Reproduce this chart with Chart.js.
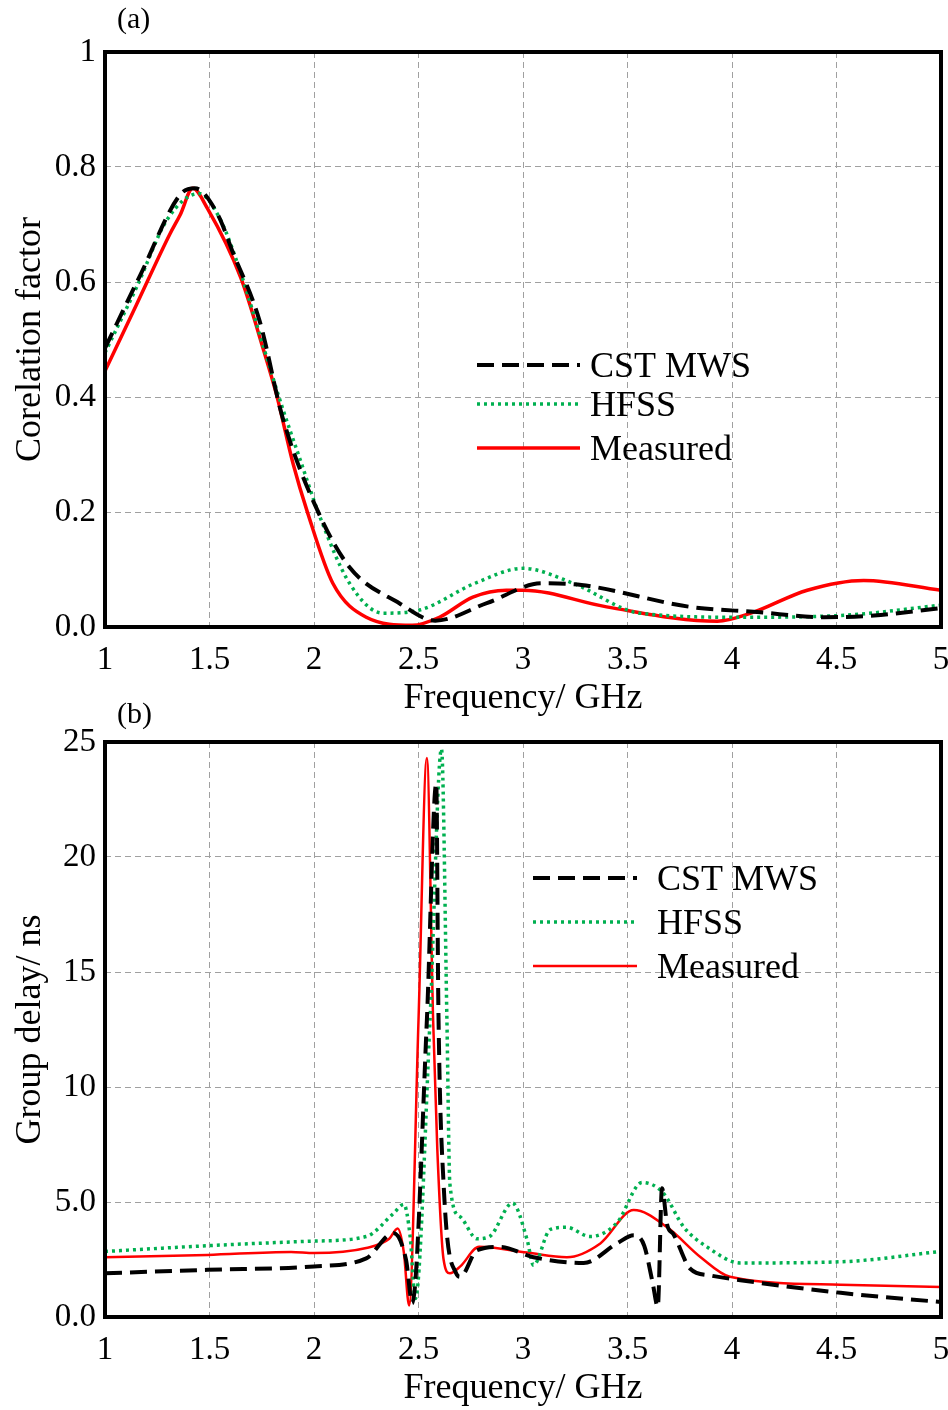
<!DOCTYPE html>
<html>
<head>
<meta charset="utf-8">
<script src="https://cdn.jsdelivr.net/npm/chart.js"></script>
<style>
  body { margin: 0; background: #fff; }
  .wrap { position: absolute; left: 0; width: 948px; height: 720px; }
</style>
</head>
<body>
<div class="wrap" style="top:0"><canvas id="corrChart"></canvas></div>
<div class="wrap" style="top:690px"><canvas id="delayChart"></canvas></div>
<script>
// (a) correlation factor
const corrCstF = [1.0, 1.17, 1.36, 1.43, 1.54, 1.61, 1.74, 1.85, 2.01, 2.17, 2.41, 2.58, 2.83, 3.09, 3.28, 3.80, 4.12, 4.44, 4.68, 5.0];
const corrCst  = [0.485, 0.613, 0.752, 0.763, 0.717, 0.653, 0.532, 0.364, 0.208, 0.104, 0.041, 0.011, 0.042, 0.076, 0.073, 0.035, 0.026, 0.017, 0.02, 0.033];
const corrHfssF = [1.0, 1.15, 1.30, 1.45, 1.55, 1.65, 1.76, 1.85, 1.93, 2.03, 2.17, 2.33, 2.51, 2.77, 3.0, 3.24, 3.56, 4.04, 4.52, 5.0];
const corrHfss  = [0.477, 0.59, 0.71, 0.754, 0.71, 0.615, 0.485, 0.38, 0.295, 0.19, 0.076, 0.024, 0.03, 0.076, 0.102, 0.076, 0.024, 0.017, 0.02, 0.038];
const corrMeasF = [1.0, 1.15, 1.31, 1.36, 1.42, 1.49, 1.65, 1.76, 1.82, 1.90, 1.97, 2.09, 2.25, 2.47, 2.60, 2.76, 2.92, 3.0, 3.40, 3.93, 4.09, 4.36, 4.63, 5.0];
const corrMeas  = [0.445, 0.56, 0.683, 0.717, 0.763, 0.728, 0.607, 0.48, 0.405, 0.284, 0.198, 0.076, 0.017, 0.003, 0.017, 0.052, 0.064, 0.064, 0.035, 0.01, 0.024, 0.064, 0.081, 0.064];
const corrTicks = ['0.0', '0.2', '0.4', '0.6', '0.8', '1'];

// (b) group delay
const delayCstF = [1.0, 1.49, 2.0, 2.25, 2.38, 2.44, 2.47, 2.54, 2.585, 2.595, 2.62, 2.68, 2.70, 2.78, 2.89, 3.05, 3.29, 3.45, 3.53, 3.58, 3.62, 3.645, 3.665, 3.69, 3.72, 3.80, 3.90, 4.04, 4.52, 5.0];
const delayCst  = [1.9, 2.05, 2.2, 2.55, 3.65, 2.5, 0.6, 12.9, 23.2, 13.5, 5.8, 1.9, 1.75, 2.9, 3.05, 2.6, 2.35, 3.2, 3.55, 3.1, 1.5, 0.45, 5.6, 4.0, 3.6, 2.1, 1.8, 1.6, 1.05, 0.65];
const delayHfssF = [1.0, 1.49, 2.0, 2.25, 2.38, 2.43, 2.46, 2.485, 2.555, 2.61, 2.636, 2.65, 2.70, 2.78, 2.84, 2.95, 3.02, 3.05, 3.13, 3.21, 3.32, 3.45, 3.57, 3.67, 3.77, 3.88, 4.04, 4.52, 5.0];
const delayHfss  = [2.85, 3.1, 3.3, 3.5, 4.5, 4.9, 3.5, 0.8, 12.9, 24.7, 12.9, 5.8, 4.35, 3.4, 3.5, 4.95, 3.35, 2.25, 3.8, 3.9, 3.5, 4.1, 5.85, 5.4, 3.9, 3.05, 2.35, 2.4, 2.85];
const delayMeasF = [1.0, 1.49, 1.89, 2.0, 2.25, 2.36, 2.40, 2.43, 2.455, 2.50, 2.54, 2.57, 2.59, 2.62, 2.65, 2.70, 2.79, 3.02, 3.21, 3.37, 3.53, 3.69, 3.85, 3.99, 4.52, 5.0];
const delayMeas  = [2.6, 2.7, 2.83, 2.78, 3.0, 3.4, 3.85, 2.8, 0.5, 12.9, 24.3, 12.9, 7.3, 2.5, 1.9, 2.2, 3.05, 2.8, 2.6, 3.2, 4.65, 3.9, 2.6, 1.75, 1.4, 1.3];
const delayTicks = ['0.0', '5.0', '10', '15', '20', '25'];

const freqTicks = ['1', '1.5', '2', '2.5', '3', '3.5', '4', '4.5', '5'];
const seriesNames = ['CST MWS', 'HFSS', 'Measured'];

const serif = '"Liberation Serif", "Times New Roman", serif';

function pts(xs, ys) {
  return xs.map((x, i) => ({ x: x, y: ys[i] }));
}

// frame, panel tag and the legend inside the plot
const panelDecor = {
  id: 'panelDecor',
  afterDraw(chart, args, opts) {
    const ctx = chart.ctx;
    const a = chart.chartArea;
    ctx.save();
    ctx.strokeStyle = '#000';
    ctx.lineWidth = 4;
    ctx.strokeRect(a.left, a.top, a.right - a.left, a.bottom - a.top);

    ctx.fillStyle = '#000';
    ctx.textBaseline = 'middle';
    ctx.font = '30px ' + serif;
    ctx.fillText(opts.tag, opts.tagX, opts.tagY);

    ctx.font = '36px ' + serif;
    ctx.textBaseline = 'alphabetic';
    chart.data.datasets.forEach((ds, i) => {
      const y = opts.legendY[i];
      ctx.beginPath();
      ctx.setLineDash(ds.borderDash || []);
      ctx.lineWidth = ds.borderWidth;
      ctx.strokeStyle = ds.borderColor;
      ctx.moveTo(opts.lineX0, y);
      ctx.lineTo(opts.lineX1, y);
      ctx.stroke();
      ctx.setLineDash([]);
      ctx.fillText(ds.label, opts.textX, y + 12);
    });
    ctx.restore();
  }
};

function makeChart(id, sets, yMax, yStep, yTicks, yTitle, decor, redWidth) {
  return new Chart(document.getElementById(id), {
    type: 'line',
    data: {
      datasets: [
        { label: seriesNames[0], data: sets[0], borderColor: '#000', borderWidth: 4, borderDash: [17, 8] },
        { label: seriesNames[1], data: sets[1], borderColor: '#00b050', borderWidth: 3.5, borderDash: [3, 4] },
        { label: seriesNames[2], data: sets[2], borderColor: '#ff0000', borderWidth: redWidth }
      ]
    },
    options: {
      responsive: true,
      maintainAspectRatio: false,
      animation: false,
      elements: {
        point: { radius: 0 },
        line: { cubicInterpolationMode: 'monotone' }
      },
      layout: { padding: { top: 52, right: 7, left: 0, bottom: 0 } },
      plugins: {
        legend: { display: false },
        tooltip: { enabled: false },
        panelDecor: decor
      },
      scales: {
        x: {
          type: 'linear',
          min: 1,
          max: 5,
          afterFit: s => { s.height = 93; s.paddingLeft = 0; s.paddingRight = 0; },
          afterBuildTicks: s => { s.ticks = freqTicks.map(t => ({ value: parseFloat(t) })); },
          ticks: {
            padding: 14,
            color: '#000',
            font: { family: serif, size: 33 },
            maxRotation: 0,
            callback: (v, i) => freqTicks[i]
          },
          grid: { color: '#a0a0a0', lineWidth: 1, drawTicks: false },
          border: { display: false, dash: [6, 4] },
          title: {
            display: true,
            text: 'Frequency/ GHz',
            color: '#000',
            font: { family: serif, size: 36 },
            padding: { top: 0, bottom: 0 }
          }
        },
        y: {
          min: 0,
          max: yMax,
          afterFit: s => { s.width = 105; },
          ticks: {
            stepSize: yStep,
            padding: 9,
            color: '#000',
            font: { family: serif, size: 33 },
            callback: (v, i) => yTicks[i]
          },
          grid: { color: '#a0a0a0', lineWidth: 1, drawTicks: false },
          border: { display: false, dash: [6, 4] },
          title: {
            display: true,
            text: yTitle,
            color: '#000',
            font: { family: serif, size: 36 },
            padding: { top: 9, bottom: 0 }
          }
        }
      }
    },
    plugins: [panelDecor]
  });
}

makeChart('corrChart',
  [pts(corrCstF, corrCst), pts(corrHfssF, corrHfss), pts(corrMeasF, corrMeas)],
  1, 0.2, corrTicks, 'Corelation factor',
  { tag: '(a)', tagX: 117, tagY: 20, legendY: [365, 404, 448], lineX0: 477, lineX1: 580, textX: 590 },
  3.5);

makeChart('delayChart',
  [pts(delayCstF, delayCst), pts(delayHfssF, delayHfss), pts(delayMeasF, delayMeas)],
  25, 5, delayTicks, 'Group delay/ ns',
  { tag: '(b)', tagX: 117, tagY: 25, legendY: [188, 232, 276], lineX0: 533, lineX1: 637, textX: 657 },
  2.5);
</script>
</body>
</html>
